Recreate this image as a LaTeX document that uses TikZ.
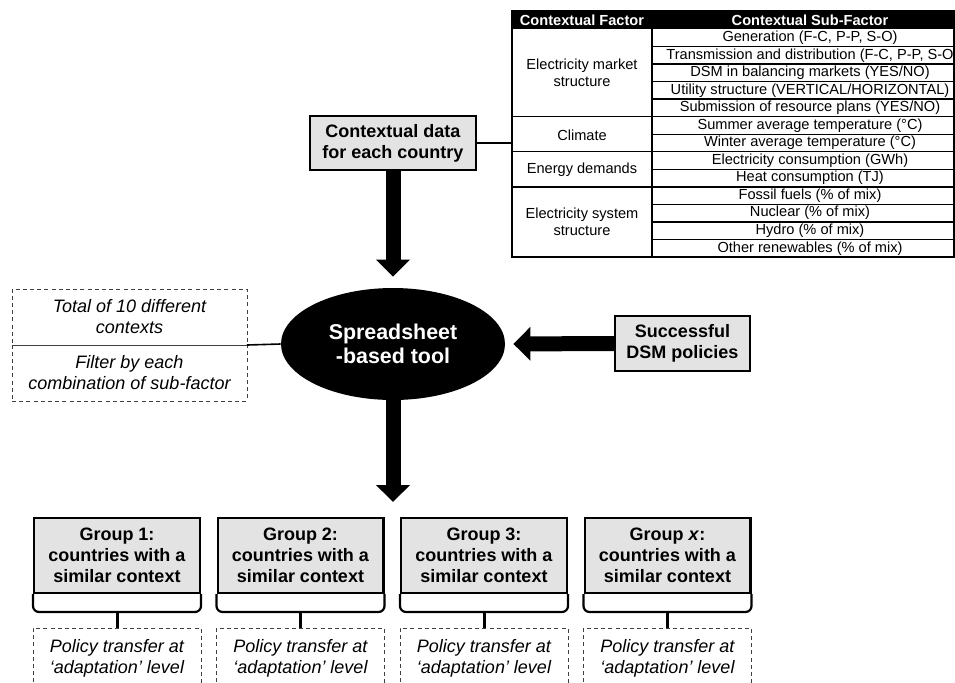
\documentclass[tikz,border=0pt]{standalone}
\usepackage{fontspec}
\setmainfont{Liberation Sans}
\usetikzlibrary{arrows.meta, positioning, shapes.geometric}

\begin{document}
\begin{tikzpicture}[
  x=0.5pt, y=-0.5pt,
  box/.style={draw, line width=1.2pt, fill=gray!22, align=center, inner sep=1pt,
    font=\fontsize{9}{10.5}\selectfont\bfseries},
  grp/.style={box, minimum width=82.8pt, minimum height=37.3pt},
  dashbox/.style={draw=black!75, dash pattern=on 2pt off 1.6pt, line width=0.5pt,
    align=center, inner sep=1pt, outer sep=0pt, font=\fontsize{9}{10.5}\selectfont\itshape},
  policy/.style={dashbox, minimum width=84pt, minimum height=30pt},
  tool/.style={ellipse, fill=black, text=white, align=center, minimum width=112pt,
    minimum height=56pt, inner sep=0pt, font=\fontsize{10.7}{12}\selectfont\bfseries},
  fat/.style={line width=7.5pt, -{Triangle[width=16.5pt, length=8.5pt]}},
  link/.style={line width=0.8pt},
  brk/.style={line width=1.1pt, rounded corners=3pt},
  head/.style={text=white, font=\fontsize{7.3}{8.75}\selectfont\bfseries, inner sep=0pt},
  cell/.style={font=\fontsize{7.3}{8.75}\selectfont, align=center, inner sep=0pt},
  tabline/.style={line width=0.7pt}
]
\useasboundingbox (0,0) rectangle (955,682);
\clip (0,0) rectangle (955,682);

% table of contextual factors
\fill (512,11) rectangle (954,29);
\node[head] (hfac) at (582,20) {Contextual Factor};
\node[head] (hsub) at (810,20) {Contextual Sub-Factor};
\foreach \sub [count=\i from 0] in {{Generation (F-C, P-P, S-O)},
    {Transmission and distribution (F-C, P-P, S-O}, {DSM in balancing markets (YES/NO)},
    {Utility structure (VERTICAL/HORIZONTAL)}, {Submission of resource plans (YES/NO)},
    {Summer average temperature (°C)}, {Winter average temperature (°C)},
    {Electricity consumption (GWh)}, {Heat consumption (TJ)}, {Fossil fuels (\% of mix)},
    {Nuclear (\% of mix)}, {Hydro (\% of mix)}, {Other renewables (\% of mix)}}
  \node[cell] (sub\i) at (810,{29+17.54*\i+8.77}) {\sub};
\foreach \i in {1,...,12}
  \draw[tabline] (652,{29+17.54*\i}) -- (954,{29+17.54*\i});
\foreach \i in {5,7,9}
  \draw[tabline] (512,{29+17.54*\i}) -- (652,{29+17.54*\i});
\draw[tabline] (512,11) rectangle (954,257);
\draw[tabline] (652,11) -- (652,257);
\node[cell] (fac1) at (582,72.8) {Electricity market\\structure};
\node[cell] (fac2) at (582,134.9) {Climate};
\node[cell] (fac3) at (582,170) {Energy demands};
\node[cell] (fac4) at (582,222) {Electricity system\\structure};
\coordinate (tabW) at (512,143);

% main flow
\node[box, minimum width=82.8pt, minimum height=26.8pt] (ctx) at (393,143) {Contextual data\\for each country};
\node[tool] (tool) at (393,344) {Spreadsheet\\-based tool};
\node[box, minimum width=67.3pt, minimum height=27.3pt] (dsm) at (682.5,343.5) {Successful\\DSM policies};
\node[dashbox, minimum width=117.5pt, minimum height=28pt] (tot) at (129.5,317) {Total of 10 different\\contexts};
\node[dashbox, minimum width=117.5pt, minimum height=28pt, below=0pt of tot] (filt) {Filter by each\\combination of sub-factor};
\coordinate (split) at (393,502);

\draw[link] (ctx.east) -- (tabW);
\draw[link] (tot.south east) -- (tool.west);
\draw[fat, shorten >=5.5pt] (ctx.south) -- (tool.north);
\draw[fat, shorten >=4pt] (dsm.west) -- (tool.east);
\draw[fat] (tool.south) -- (split);

% groups of countries
\node[grp] (g1) at (117,555.5) {Group 1:\\countries with a\\similar context};
\node[grp, right=7.75pt of g1] (g2) {Group 2:\\countries with a\\similar context};
\node[grp, right=7.75pt of g2] (g3) {Group 3:\\countries with a\\similar context};
\node[grp, right=7.75pt of g3] (g4) {Group \textit{x}:\\countries with a\\similar context};
\foreach \i in {1,...,4} {
  \draw[brk] (g\i.south west) -- ++(0,18) -| (g\i.south east);
  \coordinate (b\i) at ([yshift=-9pt]g\i.south);
  \node[policy, below=8pt of b\i] (p\i) {Policy transfer at\\‘adaptation’ level};
  \draw[line width=1.5pt] (b\i) -- (p\i.north);
}
\end{tikzpicture}
\end{document}
